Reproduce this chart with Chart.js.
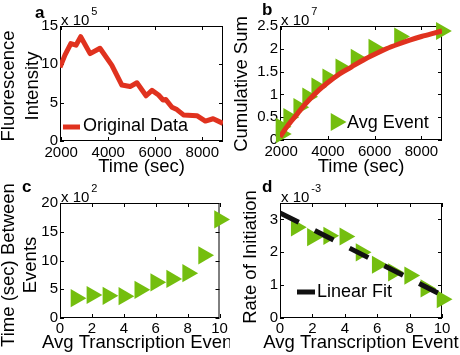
<!DOCTYPE html>
<html>
<head>
<meta charset="utf-8">
<script src="https://cdn.jsdelivr.net/npm/chart.js@4.4.1/dist/chart.umd.min.js"></script>
<style>
  html, body { margin: 0; padding: 0; background: #fff; }
  #wrap { position: relative; width: 460px; height: 355px; overflow: hidden; }
  canvas { position: absolute; }
</style>
</head>
<body>
<div id="wrap">
  <canvas id="pa" width="230" height="177" style="left:0;top:0"></canvas>
  <canvas id="pb" width="230" height="177" style="left:230px;top:0"></canvas>
  <canvas id="pc" width="230" height="178" style="left:0;top:177px"></canvas>
  <canvas id="pd" width="230" height="178" style="left:230px;top:177px"></canvas>
</div>
<script>
// panel a: fluorescence trace (x 10^5)
const timeA = [1950, 2160, 2410, 2630, 2830, 3230, 3650, 4150, 4580, 4930, 5220, 5610, 5860, 6140, 6330, 6450, 6710, 6920, 7200, 7770, 8130, 8460, 8880];
const fluorA = [9.6, 11.2, 12.7, 12.5, 13.6, 11.4, 12.1, 9.9, 7.3, 7.1, 7.6, 5.9, 6.6, 6.0, 5.35, 5.4, 4.4, 4.1, 3.4, 3.3, 2.6, 2.9, 2.3];

// panel b: cumulative sum (x 10^7)
const timeCurveB = [1950, 2300, 2700, 3000, 3500, 4000, 4500, 5000, 5500, 6000, 6500, 7000, 7500, 8000, 8500, 8880];
const cumCurveB = [0.07, 0.33, 0.58, 0.77, 1.04, 1.26, 1.45, 1.60, 1.75, 1.88, 2.00, 2.10, 2.19, 2.27, 2.34, 2.39];
const timeEventB = [2000, 1990, 2320, 2750, 3130, 3520, 3990, 4550, 5200, 5960, 7060, 8850];
const cumEventB = [0.13, 0.29, 0.50, 0.72, 0.95, 1.17, 1.37, 1.59, 1.80, 2.02, 2.27, 2.39];

// panel c: time between events (x 10^2)
const eventC = [1, 2, 3, 4, 5, 6, 7, 8, 9, 10];
const gapC = [3.45, 4.0, 3.85, 3.8, 4.9, 6.2, 6.8, 7.8, 10.9, 17.15];

// panel d: rate of initiation (x 10^-3)
const eventD = [1, 2, 3, 4, 5, 6, 7, 8, 9, 10];
const rateD = [2.76, 2.46, 2.5, 2.48, 2.0, 1.62, 1.39, 1.29, 0.9, 0.57];
const fitX = [0, 10];
const fitY = [3.2, 0.7];

// ticks
const timeTicks = [2000, 4000, 6000, 8000];
const eventTicks = [0, 2, 4, 6, 8, 10];
const fluorTicks = [0, 5, 10, 15];
const cumTicks = [0, 0.5, 1, 1.5, 2, 2.5];
const gapTicks = [0, 5, 10, 15, 20];
const rateTicks = [0, 1, 2, 3];

const RED = '#e0321f';
const GREEN = '#74be0e';
const FONT = '"Liberation Sans", Arial, Helvetica, sans-serif';
Chart.defaults.font.family = FONT;
Chart.defaults.color = '#000';

const pts = (xs, ys) => xs.map((x, i) => ({ x: x, y: ys[i] }));

function triangle(ctx, x, y, r) {
  ctx.beginPath();
  let a = Math.PI / 2;
  for (let k = 0; k < 3; k++) {
    const px = x + Math.sin(a) * r, py = y - Math.cos(a) * r;
    k ? ctx.lineTo(px, py) : ctx.moveTo(px, py);
    a += 2 * Math.PI / 3;
  }
  ctx.closePath();
  ctx.fill();
}

// box, inward ticks, axis titles, panel letter, exponent and legend
const deco = {
  id: 'deco',
  beforeDatasetsDraw(chart) {
    const { ctx, chartArea: a, scales: { x, y } } = chart;
    ctx.save();
    ctx.strokeStyle = '#000';
    ctx.lineWidth = 1;
    ctx.strokeRect(a.left + 0.5, a.top + 0.5, a.right - a.left - 1, a.bottom - a.top - 1);
    ctx.beginPath();
    x.ticks.forEach(t => {
      const p = Math.round(x.getPixelForValue(t.value)) + 0.5;
      ctx.moveTo(p, a.bottom); ctx.lineTo(p, a.bottom - 4);
      ctx.moveTo(p, a.top); ctx.lineTo(p, a.top + 4);
    });
    y.ticks.forEach(t => {
      const p = Math.round(y.getPixelForValue(t.value)) + 0.5;
      ctx.moveTo(a.left, p); ctx.lineTo(a.left + 4, p);
      ctx.moveTo(a.right, p); ctx.lineTo(a.right - 4, p);
    });
    ctx.stroke();
    ctx.restore();
  },
  afterDraw(chart, args, o) {
    const { ctx, chartArea: a } = chart;
    ctx.save();
    ctx.fillStyle = '#000';
    ctx.textAlign = 'left';
    ctx.textBaseline = 'alphabetic';
    ctx.font = 'bold 17px ' + FONT;
    ctx.fillText(o.letter, o.letterX, o.letterY);
    ctx.font = '15px ' + FONT;
    ctx.fillText('x 10', a.left + 1, a.top - 1);
    const w = ctx.measureText('x 10').width;
    ctx.font = '11px ' + FONT;
    ctx.fillText(o.exp, a.left + 3 + w, a.top - 11);

    // axis titles
    ctx.font = '18.5px ' + FONT;
    ctx.textAlign = 'center';
    ctx.textBaseline = 'middle';
    ctx.fillText(o.xTitle, (a.left + a.right) / 2, o.xTitleY);
    o.yTitle.forEach((line, i) => {
      ctx.save();
      ctx.translate(o.yTitleX[i], o.yTitleY);
      ctx.rotate(-Math.PI / 2);
      ctx.fillText(line, 0, 0);
      ctx.restore();
    });

    const lg = o.legend;
    if (lg) {
      const ds = chart.data.datasets[lg.index];
      if (lg.kind === 'line') {
        ctx.strokeStyle = ds.borderColor;
        ctx.lineWidth = ds.borderWidth;
        ctx.beginPath();
        ctx.moveTo(lg.x1, lg.y);
        ctx.lineTo(lg.x2, lg.y);
        ctx.stroke();
      } else {
        ctx.fillStyle = ds.pointBackgroundColor;
        triangle(ctx, lg.x1, lg.y, ds.pointRadius);
      }
      ctx.fillStyle = '#000';
      ctx.font = '18px ' + FONT;
      ctx.textAlign = 'left';
      ctx.textBaseline = 'middle';
      ctx.fillText(ds.label, lg.textX, lg.textY);
    }
    ctx.restore();
  }
};

function axis(s, dir) {
  return {
    type: 'linear',
    min: s.min,
    max: s.max,
    grid: { display: false, drawTicks: false },
    border: { display: false },
    afterBuildTicks: sc => { sc.ticks = s.ticks.map(v => ({ value: v })); },
    afterFit: sc => {
      if (dir === 'x') sc.height = s.size; else sc.width = s.size;
      sc.paddingLeft = sc.paddingRight = sc.paddingTop = sc.paddingBottom = 0;
    },
    ticks: {
      padding: s.pad,
      color: '#000',
      font: { size: 15 },
      maxRotation: 0,
      autoSkip: false,
      callback: v => String(v)
    },
    title: { display: false }
  };
}

function panel(id, datasets, cfg) {
  return new Chart(document.getElementById(id), {
    type: 'scatter',
    data: { datasets: datasets },
    options: {
      responsive: false,
      animation: false,
      events: [],
      layout: { padding: { left: 0, top: 26, right: cfg.right, bottom: 0 } },
      plugins: {
        legend: { display: false },
        tooltip: { enabled: false },
        deco: cfg.deco
      },
      scales: { x: axis(cfg.x, 'x'), y: axis(cfg.y, 'y') }
    },
    plugins: [deco]
  });
}

function markers(label, data) {
  return {
    label: label,
    data: data,
    showLine: false,
    clip: false,
    pointStyle: 'triangle',
    pointRotation: 90,
    pointRadius: 10.5,
    pointBackgroundColor: GREEN,
    pointBorderColor: GREEN,
    pointBorderWidth: 0
  };
}

panel('pa', [{
  label: 'Original Data',
  data: pts(timeA, fluorA),
  showLine: true,
  borderColor: RED,
  borderWidth: 5,
  borderJoinStyle: 'round',
  pointRadius: 0
}], {
  right: 7,
  x: { min: 1950, max: 8880, ticks: timeTicks, size: 36, pad: 3 },
  y: { min: 0, max: 15, ticks: fluorTicks, size: 60, pad: 2 },
  deco: { letter: 'a', letterX: 35, letterY: 18, exp: '5',
    xTitle: 'Time (sec)', xTitleY: 167,
    yTitle: ['Fluorescence', 'Intensity'], yTitleX: [9, 33], yTitleY: 86,
    legend: { index: 0, kind: 'line', x1: 63, x2: 80, y: 127, textX: 83, textY: 126 } }
});

panel('pb', [{
  label: 'Cumulative',
  data: pts(timeCurveB, cumCurveB),
  showLine: true,
  borderColor: RED,
  borderWidth: 5,
  cubicInterpolationMode: 'monotone',
  pointRadius: 0
}, markers('Avg Event', pts(timeEventB, cumEventB))], {
  right: 18,
  x: { min: 1950, max: 8880, ticks: timeTicks, size: 37, pad: 3 },
  y: { min: 0, max: 2.5, ticks: cumTicks, size: 50, pad: 2 },
  deco: { letter: 'b', letterX: 32, letterY: 15, exp: '7',
    xTitle: 'Time (sec)', xTitleY: 167,
    yTitle: ['Cumulative Sum'], yTitleX: [12], yTitleY: 84,
    legend: { index: 1, kind: 'marker', x1: 106, y: 122, textX: 117, textY: 123 } }
});

panel('pc', [markers('Avg Event', pts(eventC, gapC))], {
  right: 7,
  x: { min: 0, max: 10, ticks: eventTicks, size: 37, pad: 2 },
  y: { min: 0, max: 20, ticks: gapTicks, size: 60, pad: 2 },
  deco: { letter: 'c', letterX: 22, letterY: 15, exp: '2',
    xTitle: 'Avg Transcription Event', xTitleY: 165.5,
    yTitle: ['Time (sec) Between', 'Events'], yTitleX: [9, 31], yTitleY: 88 }
});

panel('pd', [{
  label: 'Linear Fit',
  data: pts(fitX, fitY),
  showLine: true,
  borderColor: '#111',
  borderWidth: 5,
  borderDash: [21, 18],
  borderCapStyle: 'butt',
  pointRadius: 0
}, markers('Avg Event', pts(eventD, rateD))], {
  right: 18,
  x: { min: 0, max: 10, ticks: eventTicks, size: 37, pad: 2 },
  y: { min: 0, max: 3.5, ticks: rateTicks, size: 50, pad: 2 },
  deco: { letter: 'd', letterX: 32, letterY: 15, exp: '-3',
    xTitle: 'Avg Transcription Event', xTitleY: 165.5,
    yTitle: ['Rate of Initiation'], yTitleX: [20.5], yTitleY: 80,
    legend: { index: 0, kind: 'line', x1: 67, x2: 85, y: 115, textX: 87, textY: 115 } }
});
</script>
</body>
</html>
